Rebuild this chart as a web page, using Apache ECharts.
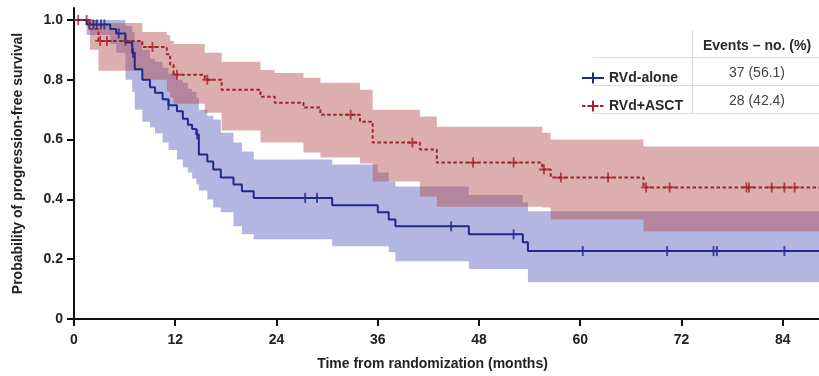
<!DOCTYPE html>
<html>
<head>
<meta charset="utf-8">
<script src="https://cdn.jsdelivr.net/npm/echarts@6/dist/echarts.min.js"></script>
<style>
  html, body { margin: 0; padding: 0; background: #fff; }
  #chart { width: 819px; height: 376px; }
</style>
</head>
<body>
<div id="chart"></div>
<script>
// Kaplan-Meier steps: each time (months) starts a new survival level
const aloneTime  = [0, 1.5, 4.3, 5.0, 6.1, 6.9, 7.2, 8.1, 9.0, 9.6, 10.5, 11.2, 12.2, 12.9, 13.5, 14.0, 14.5, 14.8, 15.8, 16.5, 17.4, 18.9, 19.9, 21.3, 30.6, 36.0, 37.3, 38.1, 46.8, 53.2, 53.8, 88.3];
const aloneSurv  = [1.0, 0.985, 0.97, 0.955, 0.925, 0.89, 0.835, 0.80, 0.775, 0.757, 0.735, 0.715, 0.695, 0.67, 0.65, 0.635, 0.617, 0.55, 0.527, 0.50, 0.473, 0.45, 0.427, 0.405, 0.38, 0.357, 0.333, 0.31, 0.283, 0.257, 0.227, 0.227];
const aloneLower = [1.0, 0.95, 0.92, 0.89, 0.80, 0.76, 0.70, 0.66, 0.64, 0.62, 0.59, 0.565, 0.533, 0.507, 0.49, 0.47, 0.45, 0.43, 0.40, 0.373, 0.357, 0.31, 0.283, 0.267, 0.243, 0.243, 0.223, 0.193, 0.167, 0.167, 0.123, 0.123];
const aloneUpper = [1.0, 1.0, 1.0, 1.0, 0.98, 0.96, 0.93, 0.90, 0.87, 0.86, 0.84, 0.82, 0.80, 0.79, 0.77, 0.76, 0.74, 0.70, 0.68, 0.667, 0.623, 0.59, 0.56, 0.533, 0.517, 0.49, 0.46, 0.443, 0.415, 0.39, 0.36, 0.36];
const aloneCensor = [1.8, 2.3, 2.7, 3.2, 3.6, 5.3, 7.0, 11.2, 14.6, 27.4, 28.8, 44.7, 52.1, 60.3, 70.3, 75.8, 76.2, 84.2];

const asctTime  = [0, 1.9, 2.9, 8.1, 11.0, 11.4, 11.8, 15.5, 17.5, 22.1, 23.8, 27.2, 29.2, 33.9, 35.4, 41.0, 43.0, 55.5, 56.5, 67.5, 88.3];
const asctSurv  = [1.0, 0.97, 0.93, 0.91, 0.885, 0.85, 0.817, 0.80, 0.767, 0.743, 0.723, 0.707, 0.683, 0.66, 0.59, 0.567, 0.523, 0.50, 0.473, 0.44, 0.44];
const asctLower = [1.0, 0.90, 0.83, 0.80, 0.76, 0.74, 0.72, 0.69, 0.63, 0.59, 0.59, 0.557, 0.54, 0.52, 0.46, 0.41, 0.375, 0.373, 0.333, 0.293, 0.293];
const asctUpper = [1.0, 1.0, 0.99, 0.96, 0.95, 0.93, 0.92, 0.89, 0.86, 0.833, 0.823, 0.807, 0.79, 0.767, 0.70, 0.677, 0.643, 0.623, 0.60, 0.577, 0.577];
const asctCensor = [0.5, 1.5, 3.1, 3.9, 6.1, 9.3, 12.2, 15.8, 32.8, 40.1, 47.3, 52.1, 55.7, 57.7, 63.3, 67.8, 70.6, 79.7, 80.0, 82.7, 84.2, 85.4];

const xTicks = [0, 12, 24, 36, 48, 60, 72, 84];
const yTicks = [0, 0.2, 0.4, 0.6, 0.8, 1.0];
const groupNames = ['RVd-alone', 'RVd+ASCT'];
const eventsHeader = 'Events – no. (%)';
const eventCounts = ['37 (56.1)', '28 (42.4)'];

const FONT = '"Liberation Sans", Arial, sans-serif';
const BLUE = '#1f2a8c';
const RED = '#a3232a';

const pairs = (t, v) => t.map((x, i) => [x, v[i]]);
// survival level in force at time x (for placing censor ticks on the curve)
function survAt(t, s, x) {
  let v = s[0];
  for (let i = 0; i < t.length; i++) if (t[i] <= x) v = s[i];
  return v;
}

// stepped confidence band drawn as one polygon through the axis scales
function band(id, t, lo, hi, color) {
  return {
    name: id + '-ci', type: 'custom', silent: true, clip: true,
    data: t.map((x, i) => [x, lo[i], hi[i]]),
    encode: { x: 0, y: [1, 2] },
    renderItem: (params, api) => {
      if (params.dataIndex !== 0) return;
      const pts = [];
      for (let i = 0; i < t.length - 1; i++) {
        pts.push(api.coord([t[i], hi[i]]), api.coord([t[i + 1], hi[i]]));
      }
      for (let i = t.length - 2; i >= 0; i--) {
        pts.push(api.coord([t[i + 1], lo[i]]), api.coord([t[i], lo[i]]));
      }
      return { type: 'polygon', shape: { points: pts }, style: { fill: color } };
    }
  };
}

const crossPath = 'path://M0,4.1H10V5.9H0Z M4.1,0H5.9V10H4.1Z';

const chart = echarts.init(document.getElementById('chart'));
chart.setOption({
  animation: false,
  grid: { left: 74, right: 0, top: 8, bottom: 56 },
  xAxis: {
    type: 'value', min: 0, max: 88.3,
    name: 'Time from randomization (months)',
    nameLocation: 'middle', nameGap: 38,
    nameTextStyle: { fontFamily: FONT, fontSize: 14, fontWeight: 'bold', color: '#222', padding: [0, 28, 0, 0] },
    axisLine: { lineStyle: { color: '#111', width: 2 } },
    axisTick: { customValues: xTicks, length: 7, lineStyle: { color: '#111', width: 2 } },
    axisLabel: { customValues: xTicks, margin: 14, fontFamily: FONT, fontSize: 14, fontWeight: 'bold', color: '#222' },
    splitLine: { show: false }
  },
  yAxis: {
    type: 'value', min: 0, max: 1.04,
    name: 'Probability of progression-free survival',
    nameLocation: 'middle', nameGap: 49,
    nameTextStyle: { fontFamily: FONT, fontSize: 14, fontWeight: 'bold', color: '#222' },
    axisLine: { show: true, lineStyle: { color: '#111', width: 2 } },
    axisTick: { show: true, customValues: yTicks, length: 7, lineStyle: { color: '#111', width: 2 } },
    axisLabel: { customValues: yTicks, margin: 11, fontFamily: FONT, fontSize: 14, fontWeight: 'bold', color: '#222',
      formatter: v => v === 0 ? '0' : v.toFixed(1) },
    splitLine: { show: false }
  },
  legend: {
    data: groupNames, orient: 'vertical', left: 576, top: 66,
    itemWidth: 22, itemHeight: 14, itemGap: 14,
    textStyle: { fontFamily: FONT, fontSize: 14, fontWeight: 'bold', color: '#2a2a2a' },
    selectedMode: false
  },
  series: [
    band('alone', aloneTime, aloneLower, aloneUpper, 'rgba(88,93,191,0.45)'),
    band('asct', asctTime, asctLower, asctUpper, 'rgba(177,75,75,0.45)'),
    { name: groupNames[0], type: 'line', step: 'end', data: pairs(aloneTime, aloneSurv),
      symbol: crossPath, showSymbol: false, color: BLUE,
      lineStyle: { color: BLUE, width: 2 } },
    { name: groupNames[1], type: 'line', step: 'end', data: pairs(asctTime, asctSurv),
      symbol: crossPath, showSymbol: false, color: RED,
      lineStyle: { color: RED, width: 2, type: [3.5, 2.5] } },
    { name: 'alone-censor', type: 'scatter', silent: true,
      data: aloneCensor.map(x => [x, survAt(aloneTime, aloneSurv, x)]),
      symbol: 'rect', symbolSize: [2, 10], itemStyle: { color: BLUE } },
    { name: 'asct-censor', type: 'scatter', silent: true,
      data: asctCensor.map(x => [x, survAt(asctTime, asctSurv, x)]),
      symbol: crossPath, symbolSize: 10, itemStyle: { color: RED } }
  ],
  graphic: [
    { type: 'line', shape: { x1: 692.5, y1: 30, x2: 692.5, y2: 113 }, style: { stroke: '#dadada', lineWidth: 1 } },
    { type: 'line', shape: { x1: 593, y1: 57.5, x2: 819, y2: 57.5 }, style: { stroke: '#dadada', lineWidth: 1 } },
    { type: 'line', shape: { x1: 593, y1: 85.5, x2: 819, y2: 85.5 }, style: { stroke: '#dadada', lineWidth: 1 } },
    { type: 'line', shape: { x1: 593, y1: 113.5, x2: 819, y2: 113.5 }, style: { stroke: '#dadada', lineWidth: 1 } },
    { type: 'text', x: 757, y: 46, style: { text: eventsHeader, fontFamily: FONT, fontSize: 14, fontWeight: 'bold',
      fill: '#2a2a2a', align: 'center', verticalAlign: 'middle' } },
    { type: 'text', x: 757, y: 73, style: { text: eventCounts[0], fontFamily: FONT, fontSize: 14,
      fill: '#444', align: 'center', verticalAlign: 'middle' } },
    { type: 'text', x: 757, y: 101, style: { text: eventCounts[1], fontFamily: FONT, fontSize: 14,
      fill: '#444', align: 'center', verticalAlign: 'middle' } }
  ]
});
</script>
</body>
</html>
